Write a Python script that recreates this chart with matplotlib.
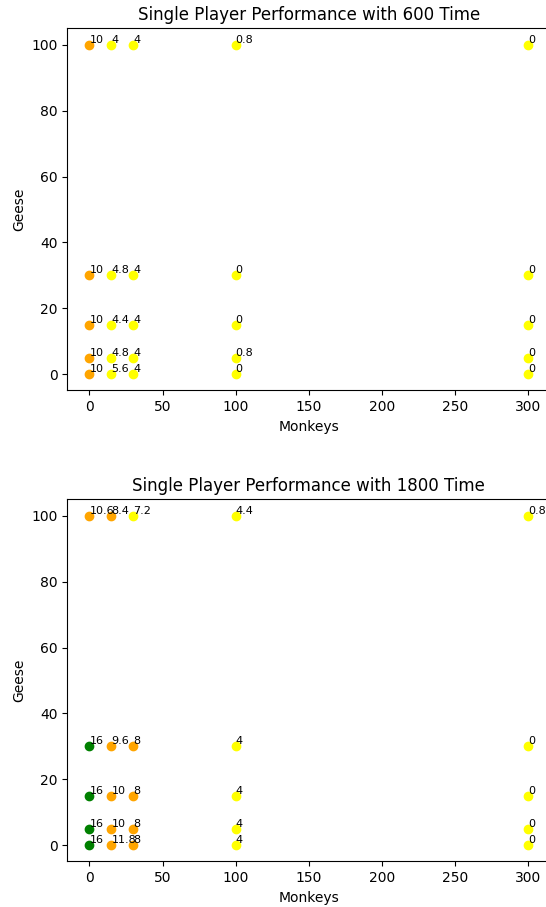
import matplotlib
matplotlib.use("Agg")
import matplotlib.pyplot as plt

monkeys = [0, 15, 30, 100, 300]
geese = [100, 30, 15, 5, 0]

# scores per geese row, one value per monkeys column
scores_600 = [
    [10, 4, 4, 0.8, 0],
    [10, 4.8, 4, 0, 0],
    [10, 4.4, 4, 0, 0],
    [10, 4.8, 4, 0.8, 0],
    [10, 5.6, 4, 0, 0],
]
scores_1800 = [
    [10.6, 8.4, 7.2, 4.4, 0.8],
    [16, 9.6, 8, 4, 0],
    [16, 10, 8, 4, 0],
    [16, 10, 8, 4, 0],
    [16, 11.8, 8, 4, 0],
]
times = [600, 1800]


def colour(s):
    if s >= 16:
        return "green"
    if s >= 8:
        return "orange"
    return "yellow"


fig = plt.figure(figsize=(5.46, 9.07), dpi=100)
ax1 = fig.add_axes([0.1236, 0.5695, 0.8841, 0.3991])
ax2 = fig.add_axes([0.1236, 0.0502, 0.8841, 0.3991])

for ax, t, scores in zip([ax1, ax2], times, [scores_600, scores_1800]):
    for j, g in enumerate(geese):
        for i, m in enumerate(monkeys):
            s = scores[j][i]
            ax.scatter(m, g, color=colour(s))
            ax.annotate(str(s), (m, g), fontsize=8, va="bottom")
    ax.set_title("Single Player Performance with %d Time" % t)
    ax.set_xlabel("Monkeys")
    ax.set_ylabel("Geese")
    ax.set_xticks(range(0, 301, 50))
    ax.set_yticks(range(0, 101, 20))

fig.savefig("out.png", dpi=100)
